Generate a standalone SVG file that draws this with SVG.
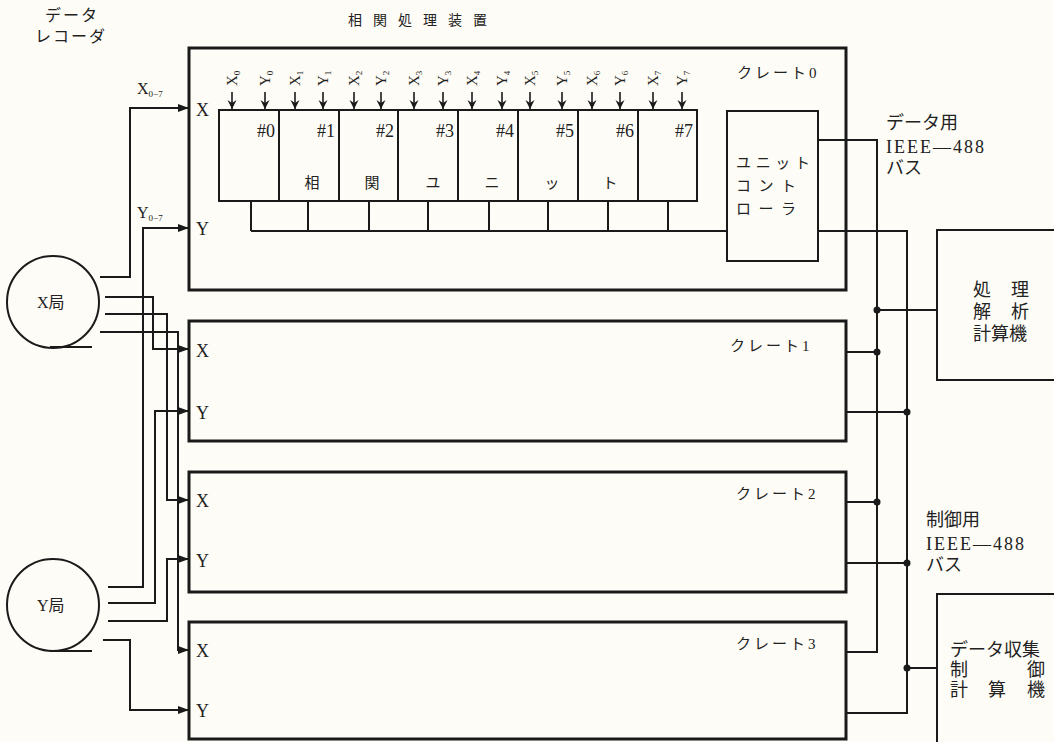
<svg xmlns="http://www.w3.org/2000/svg" width="1054" height="742" viewBox="0 0 1054 742">
<style>
.bg{fill:#fdfcf6}
.crate{fill:none;stroke:#1a1a1a;stroke-width:3}
.box{fill:none;stroke:#1a1a1a;stroke-width:2}
.w{fill:none;stroke:#1a1a1a;stroke-width:2}
.dot{fill:#1a1a1a}
text{font-family:"Liberation Serif","Noto Sans CJK JP",serif;fill:#222}
.jp{font-size:16px}
.cl{font-size:15px;letter-spacing:3px}
.lab{font-size:18px}
.num{font-size:18px}
.big{font-size:18px}
.in{font-size:15px}
.sub{font-size:9px}
</style>
<defs>
<marker id="ar" markerUnits="userSpaceOnUse" markerWidth="12" markerHeight="10" refX="11" refY="5" orient="auto">
<path d="M0,1 L11,5 L0,9 Z" fill="#1a1a1a"/>
</marker>
<marker id="ad" markerUnits="userSpaceOnUse" markerWidth="10" markerHeight="10" refX="9" refY="5" orient="auto">
<path d="M0,0.5 L9,5 L0,9.5 L3,5 Z" fill="#1a1a1a"/>
</marker>
</defs>
<rect class="bg" x="0" y="0" width="1054" height="742"/>

<g id="titles">
<text x="45" y="21" style="font-size:16px;letter-spacing:2px">データ</text>
<text x="35" y="42" style="font-size:16px;letter-spacing:2px">レコーダ</text>
<text x="348" y="25" style="font-size:14px;letter-spacing:11px">相関処理装置</text>
<text x="137" y="94" style="font-size:16px">X<tspan class="sub" dy="3">0−7</tspan></text>
<text x="137" y="218" style="font-size:16px">Y<tspan class="sub" dy="3">0−7</tspan></text>
</g>

<g id="crate0">
<rect class="crate" x="189" y="48" width="657" height="242"/>
<text class="cl" x="737" y="78">クレート0</text>
<text class="lab" x="196" y="116">X</text>
<text class="lab" x="196" y="235">Y</text>
</g>

<g id="units">
<rect class="box" x="219" y="110" width="478" height="91"/>
<path class="box" d="M279,110V201M339,110V201M398,110V201M458,110V201M518,110V201M578,110V201M638,110V201"/>
<path class="box" d="M251,201V231M308,201V231M369,201V231M428,201V231M489,201V231M548,201V231M608,201V231M668,201V231M251,231H727"/>
<g class="num" text-anchor="end">
<text x="275" y="137">#0</text>
<text x="335" y="137">#1</text>
<text x="394" y="137">#2</text>
<text x="454" y="137">#3</text>
<text x="514" y="137">#4</text>
<text x="574" y="137">#5</text>
<text x="634" y="137">#6</text>
<text x="693" y="137">#7</text>
</g>
<g style="font-size:15px" text-anchor="middle">
<text x="312" y="188">相</text>
<text x="372" y="188">関</text>
<text x="433" y="188">ユ</text>
<text x="492" y="188">ニ</text>
<text x="552" y="188">ッ</text>
<text x="610" y="188">ト</text>
</g>
</g>

<g id="inputs">
<path class="w" style="stroke-width:1.6" marker-end="url(#ad)" d="M232,92V109"/>
<path class="w" style="stroke-width:1.6" marker-end="url(#ad)" d="M265,92V109"/>
<path class="w" style="stroke-width:1.6" marker-end="url(#ad)" d="M295,92V109"/>
<path class="w" style="stroke-width:1.6" marker-end="url(#ad)" d="M323,92V109"/>
<path class="w" style="stroke-width:1.6" marker-end="url(#ad)" d="M354,92V109"/>
<path class="w" style="stroke-width:1.6" marker-end="url(#ad)" d="M381,92V109"/>
<path class="w" style="stroke-width:1.6" marker-end="url(#ad)" d="M414,92V109"/>
<path class="w" style="stroke-width:1.6" marker-end="url(#ad)" d="M443,92V109"/>
<path class="w" style="stroke-width:1.6" marker-end="url(#ad)" d="M472,92V109"/>
<path class="w" style="stroke-width:1.6" marker-end="url(#ad)" d="M502,92V109"/>
<path class="w" style="stroke-width:1.6" marker-end="url(#ad)" d="M530,92V109"/>
<path class="w" style="stroke-width:1.6" marker-end="url(#ad)" d="M562,92V109"/>
<path class="w" style="stroke-width:1.6" marker-end="url(#ad)" d="M592,92V109"/>
<path class="w" style="stroke-width:1.6" marker-end="url(#ad)" d="M620,92V109"/>
<path class="w" style="stroke-width:1.6" marker-end="url(#ad)" d="M653,92V109"/>
<path class="w" style="stroke-width:1.6" marker-end="url(#ad)" d="M682,92V109"/>
<g class="in">
<text transform="translate(237,86) rotate(-90)">X<tspan class="sub" dy="3">0</tspan></text>
<text transform="translate(270,86) rotate(-90)">Y<tspan class="sub" dy="3">0</tspan></text>
<text transform="translate(300,86) rotate(-90)">X<tspan class="sub" dy="3">1</tspan></text>
<text transform="translate(328,86) rotate(-90)">Y<tspan class="sub" dy="3">1</tspan></text>
<text transform="translate(359,86) rotate(-90)">X<tspan class="sub" dy="3">2</tspan></text>
<text transform="translate(386,86) rotate(-90)">Y<tspan class="sub" dy="3">2</tspan></text>
<text transform="translate(419,86) rotate(-90)">X<tspan class="sub" dy="3">3</tspan></text>
<text transform="translate(448,86) rotate(-90)">Y<tspan class="sub" dy="3">3</tspan></text>
<text transform="translate(477,86) rotate(-90)">X<tspan class="sub" dy="3">4</tspan></text>
<text transform="translate(507,86) rotate(-90)">Y<tspan class="sub" dy="3">4</tspan></text>
<text transform="translate(535,86) rotate(-90)">X<tspan class="sub" dy="3">5</tspan></text>
<text transform="translate(567,86) rotate(-90)">Y<tspan class="sub" dy="3">5</tspan></text>
<text transform="translate(597,86) rotate(-90)">X<tspan class="sub" dy="3">6</tspan></text>
<text transform="translate(625,86) rotate(-90)">Y<tspan class="sub" dy="3">6</tspan></text>
<text transform="translate(658,86) rotate(-90)">X<tspan class="sub" dy="3">7</tspan></text>
<text transform="translate(687,86) rotate(-90)">Y<tspan class="sub" dy="3">7</tspan></text>
</g>
</g>

<g id="controller">
<rect class="box" x="727" y="111" width="91" height="150"/>
<g style="font-size:15px">
<text x="736" y="168" textLength="74">ユニット</text>
<text x="736" y="191" textLength="74" style="letter-spacing:14px">コント</text>
<text x="736" y="214" textLength="74" style="letter-spacing:14px">ローラ</text>
</g>
</g>

<g id="crate1">
<rect class="crate" x="189" y="321" width="657" height="120"/>
<text class="cl" x="730" y="351">クレート1</text>
<text class="lab" x="196" y="357">X</text>
<text class="lab" x="196" y="419">Y</text>
</g>
<g id="crate2">
<rect class="crate" x="189" y="472" width="657" height="120"/>
<text class="cl" x="736" y="499">クレート2</text>
<text class="lab" x="196" y="507">X</text>
<text class="lab" x="196" y="567">Y</text>
</g>
<g id="crate3">
<rect class="crate" x="189" y="622" width="657" height="117"/>
<text class="cl" x="736" y="649">クレート3</text>
<text class="lab" x="196" y="657">X</text>
<text class="lab" x="196" y="717">Y</text>
</g>

<g id="xstation">
<circle class="w" cx="53" cy="302" r="46"/>
<path class="w" d="M50,347H92"/>
<text x="37" y="308" style="font-size:16px">X局</text>
</g>
<g id="ystation">
<circle class="w" cx="53" cy="605" r="46"/>
<path class="w" d="M50,651H92"/>
<text x="37" y="611" style="font-size:16px">Y局</text>
</g>

<g id="comp1">
<rect class="box" x="937" y="230" width="130" height="150"/>
<g class="big">
<text x="973" y="296">処</text><text x="1011" y="296">理</text>
<text x="973" y="318">解</text><text x="1011" y="318">析</text>
<text x="973" y="340">計算機</text>
</g>
</g>
<g id="comp2">
<rect class="box" x="937" y="594" width="130" height="160"/>
<g class="big">
<text x="950" y="656">データ収集</text>
<text x="950" y="676">制</text><text x="1027" y="676">御</text>
<text x="950" y="696">計</text><text x="988" y="696">算</text><text x="1027" y="696">機</text>
</g>
</g>

<g id="buslabels" style="font-size:18px">
<text x="886" y="129">データ用</text>
<text x="886" y="153" textLength="98">IEEE—488</text>
<text x="886" y="174">バス</text>
<text x="926" y="526">制御用</text>
<text x="926" y="550" textLength="98">IEEE—488</text>
<text x="926" y="571">バス</text>
</g>

<g id="connectors">
<path class="w" marker-end="url(#ar)" d="M100,277H130V108H189"/>
<path class="w" marker-end="url(#ar)" d="M105,297H153V349H189"/>
<path class="w" marker-end="url(#ar)" d="M105,314H167V500H189"/>
<path class="w" marker-end="url(#ar)" d="M100,332H178V650H189"/>
<path class="w" marker-end="url(#ar)" d="M108,587H143V228H189"/>
<path class="w" marker-end="url(#ar)" d="M108,603H155V411H189"/>
<path class="w" marker-end="url(#ar)" d="M108,621H167V559H189"/>
<path class="w" marker-end="url(#ar)" d="M103,640H130V710H189"/>
<path class="w" d="M818,140H877V652H847"/>
<path class="w" d="M818,231H907V713H847"/>
<path class="w" d="M847,352H877M847,412H907M847,502H877M847,563H907M877,310H937M907,668H937"/>
<circle class="dot" cx="877" cy="352" r="3.5"/>
<circle class="dot" cx="907" cy="412" r="3.5"/>
<circle class="dot" cx="877" cy="502" r="3.5"/>
<circle class="dot" cx="907" cy="563" r="3.5"/>
<circle class="dot" cx="877" cy="310" r="3.5"/>
<circle class="dot" cx="907" cy="668" r="3.5"/>
</g>
</svg>
